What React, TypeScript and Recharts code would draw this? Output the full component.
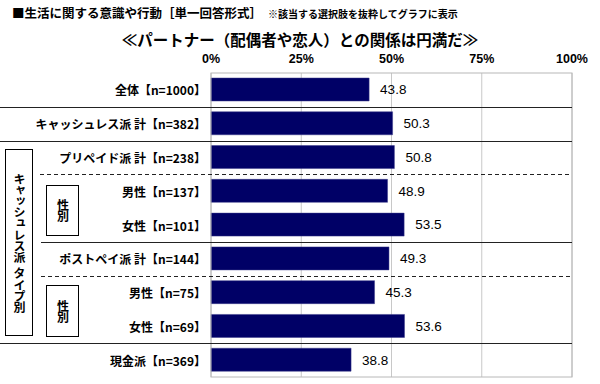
import React from "react";
import { BarChart, Bar, XAxis, YAxis, CartesianGrid, LabelList } from "recharts";

const categories = [
  "全体【n=1000】",
  "キャッシュレス派 計【n=382】",
  "プリペイド派 計【n=238】",
  "男性【n=137】",
  "女性【n=101】",
  "ポストペイ派 計【n=144】",
  "男性【n=75】",
  "女性【n=69】",
  "現金派【n=369】",
];
const values = [43.8, 50.3, 50.8, 48.9, 53.5, 49.3, 45.3, 53.6, 38.8];
const xTicks = [0, 25, 50, 75, 100];

const data = categories.map((name, i) => ({ name, value: values[i] }));

// chart frame
const W = 600;
const H = 384;
const PLOT_LEFT = 211;
const PLOT_RIGHT = 572;
const PLOT_TOP = 73;
const PLOT_BOTTOM = 377;
const X_AXIS_H = 20;
const ROW_H = (PLOT_BOTTOM - PLOT_TOP) / categories.length;

const JP = '"Noto Sans CJK JP", "Noto Sans", sans-serif';
const NUM = '"Liberation Sans", Arial, sans-serif';

// separators below row i: [row, dashed, startX]
const separators: [number, boolean, number][] = [
  [0, false, 0],
  [1, false, 0],
  [2, true, 40],
  [4, false, 41],
  [5, true, 41],
  [7, false, 0],
];

const CategoryTick = ({ y, payload }: any) => (
  <text
    x={PLOT_LEFT - 5}
    y={y}
    textAnchor="end"
    dominantBaseline="central"
    fontFamily={JP}
    fontWeight={700}
    fontSize={12}
    fill="#000"
  >
    {payload.value}
  </text>
);

const PercentTick = ({ x, payload }: any) => (
  <text
    x={x}
    y={PLOT_TOP - 10}
    textAnchor="middle"
    fontFamily={NUM}
    fontWeight={700}
    fontSize={12.5}
    fill="#000"
  >
    {payload.value}%
  </text>
);

const VBox = ({ left, top, width, height, text }: any) => (
  <div
    style={{
      position: "absolute",
      left,
      top,
      width,
      height,
      boxSizing: "border-box",
      border: "1px solid #000",
      background: "#fff",
      display: "flex",
      alignItems: "center",
      justifyContent: "center",
    }}
  >
    <span
      style={{
        writingMode: "vertical-rl",
        whiteSpace: "pre",
        fontFamily: JP,
        fontWeight: 700,
        fontSize: 12,
        lineHeight: 1,
        letterSpacing: -0.8,
        color: "#000",
      }}
    >
      {text}
    </span>
  </div>
);

export default function App() {
  return (
    <div style={{ position: "absolute", left: 0, top: 0, width: W, height: H, background: "#fff" }}>
      <div
        style={{
          position: "absolute",
          left: 12,
          top: 4,
          whiteSpace: "nowrap",
          fontFamily: JP,
          fontWeight: 700,
          fontSize: 12.5,
          lineHeight: "17px",
        }}
      >
        ■生活に関する意識や行動［単一回答形式］
        <span style={{ fontSize: 10, marginLeft: 6 }}>※該当する選択肢を抜粋してグラフに表示</span>
      </div>
      <div
        style={{
          position: "absolute",
          left: 0,
          width: W,
          top: 31,
          textAlign: "center",
          fontFamily: JP,
          fontWeight: 700,
          fontSize: 15.5,
          lineHeight: "16px",
        }}
      >
        ≪パートナー（配偶者や恋人）との関係は円満だ≫
      </div>

      <div style={{ position: "absolute", left: 0, top: 0 }}>
        <BarChart
          width={W}
          height={H}
          data={data}
          layout="vertical"
          margin={{ top: PLOT_TOP - X_AXIS_H, right: W - PLOT_RIGHT, bottom: H - PLOT_BOTTOM, left: 0 }}
        >
          <CartesianGrid horizontal={false} stroke="#c8c8c8" />
          <XAxis
            type="number"
            orientation="top"
            domain={[0, 100]}
            ticks={xTicks}
            height={X_AXIS_H}
            axisLine={false}
            tickLine={false}
            tick={<PercentTick />}
            interval={0}
          />
          <YAxis
            type="category"
            dataKey="name"
            width={PLOT_LEFT}
            axisLine={false}
            tickLine={false}
            tick={<CategoryTick />}
            interval={0}
          />
          <Bar dataKey="value" fill="#000066" stroke="#3a3a8a" strokeWidth={0.5} barSize={23} isAnimationActive={false}>
            <LabelList
              dataKey="value"
              position="right"
              offset={11}
              formatter={(v: number) => v.toFixed(1)}
              style={{ fontFamily: NUM, fontSize: 13.5, fill: "#000" }}
            />
          </Bar>
        </BarChart>
      </div>

      <svg
        width={W}
        height={H}
        style={{ position: "absolute", left: 0, top: 0, pointerEvents: "none" }}
      >
        <rect
          x={PLOT_LEFT}
          y={PLOT_TOP}
          width={PLOT_RIGHT - PLOT_LEFT}
          height={PLOT_BOTTOM - PLOT_TOP}
          fill="none"
          stroke="#b8b8b8"
        />
        {separators.map(([row, dashed, x0]) => {
          const y = Math.round(PLOT_TOP + (row + 1) * ROW_H) + 0.5;
          return (
            <line
              key={row}
              x1={x0}
              x2={PLOT_RIGHT}
              y1={y}
              y2={y}
              stroke="#222"
              strokeWidth={1.2}
              strokeDasharray={dashed ? "4 3" : undefined}
            />
          );
        })}
      </svg>

      <VBox left={5} top={149} width={28} height={187} text={"キャッシュレス派\u2002タイプ別"} />
      <VBox left={46} top={185} width={33} height={51} text="性別" />
      <VBox left={46} top={285} width={33} height={52} text="性別" />
    </div>
  );
}
